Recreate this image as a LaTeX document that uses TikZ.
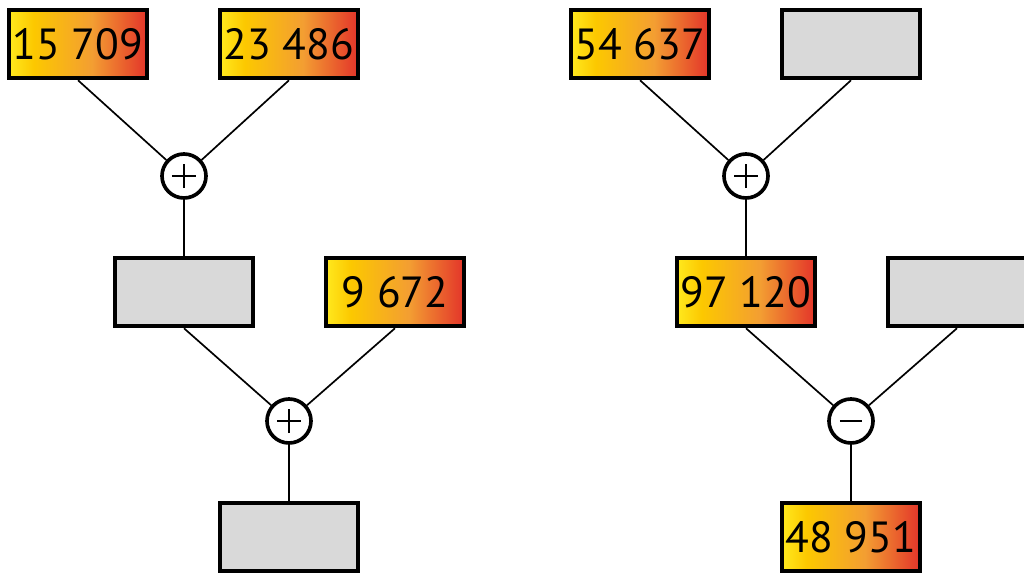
\documentclass[tikz,border=0pt]{standalone}
\usepackage{fontspec}
\setmainfont{PT Sans}
\usepackage{xcolor}
\usepackage{tikz}
\usetikzlibrary{positioning}

\definecolor{boxgray}{HTML}{D9D9D9}
\pgfdeclarehorizontalshading{sunset}{100bp}{
  color(0bp)=({rgb,255:red,255;green,233;blue,30});
  color(25bp)=({rgb,255:red,255;green,233;blue,30});
  color(34bp)=({rgb,255:red,252;green,200;blue,0});
  color(55bp)=({rgb,255:red,243;green,158;blue,50});
  color(75bp)=({rgb,255:red,227;green,52;blue,42});
  color(100bp)=({rgb,255:red,227;green,52;blue,42})}

\begin{document}
\begin{tikzpicture}[x=0.025cm, y=-0.025cm, node distance=2.9cm,
    numbox/.style={rectangle, draw, line width=3.2pt, minimum width=3.45cm, minimum height=1.7cm, inner sep=0pt, font=\fontsize{31}{36}\selectfont},
    given/.style={numbox, shading=sunset},
    blank/.style={numbox, fill=boxgray},
    op/.style={circle, draw, line width=2.6pt, minimum size=1.1cm, inner sep=0pt, fill=white},
    plus/.style={op, path picture={
        \draw [line width=1.2pt] ([xshift=-0.3cm]path picture bounding box.center) -- ([xshift=0.3cm]path picture bounding box.center);
        \draw [line width=1.2pt] ([yshift=-0.3cm]path picture bounding box.center) -- ([yshift=0.3cm]path picture bounding box.center);}},
    minus/.style={op, path picture={
        \draw [line width=1.2pt] ([xshift=-0.28cm]path picture bounding box.center) -- ([xshift=0.28cm]path picture bounding box.center);}},
    link/.style={line width=1.2pt}]

    \useasboundingbox (0,0) rectangle (1024,577);

    % left tree
    \node [given] (lefta) at (78,44) {15 709};
    \node [given] (leftb) at (289,44) {23 486};
    \node [plus] (sumone) at (184,176) {};
    \node [blank, below of=sumone] (leftc) {};
    \node [given] (leftd) at (395,292) {9 672};
    \node [plus] (sumtwo) at (289,421) {};
    \node [blank, below of=sumtwo] (lefte) {};

    % right tree
    \node [given] (righta) at (640,44) {54 637};
    \node [blank] (rightb) at (851,44) {};
    \node [plus] (sumthree) at (746,176) {};
    \node [given, below of=sumthree] (rightc) {97 120};
    \node [blank] (rightd) at (957,292) {};
    \node [minus] (difference) at (851,421) {};
    \node [given, below of=difference] (righte) {48 951};

    \draw [link] (lefta.south) -- (sumone);
    \draw [link] (leftb.south) -- (sumone);
    \draw [link] (sumone) -- (leftc);
    \draw [link] (leftc.south) -- (sumtwo);
    \draw [link] (leftd.south) -- (sumtwo);
    \draw [link] (sumtwo) -- (lefte);

    \draw [link] (righta.south) -- (sumthree);
    \draw [link] (rightb.south) -- (sumthree);
    \draw [link] (sumthree) -- (rightc);
    \draw [link] (rightc.south) -- (difference);
    \draw [link] (rightd.south) -- (difference);
    \draw [link] (difference) -- (righte);
\end{tikzpicture}
\end{document}
